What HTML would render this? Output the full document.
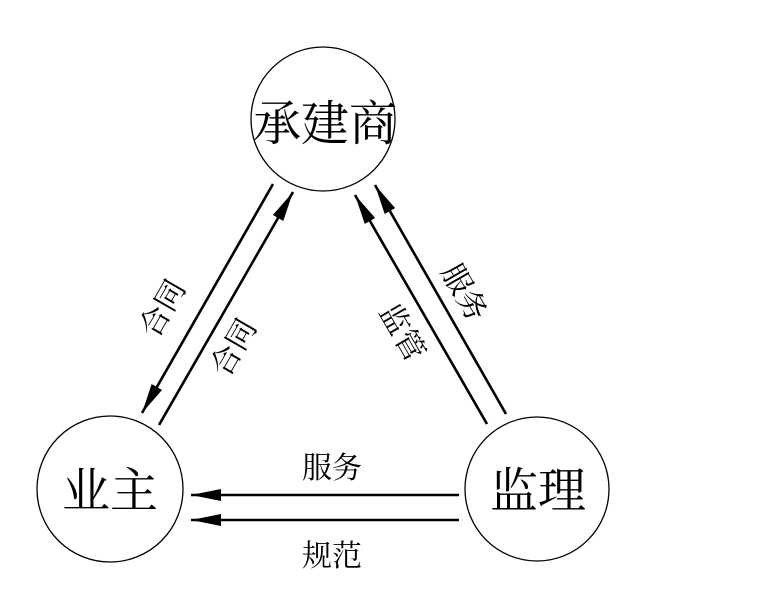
<!DOCTYPE html>
<html><head><meta charset="utf-8"><style>
html,body{margin:0;padding:0;background:#fff;width:780px;height:609px;overflow:hidden}
text{font-family:"Noto Serif CJK SC","WenQuanYi Zen Hei",serif;fill:#000}
</style></head><body>
<svg width="780" height="609" viewBox="0 0 780 609" xmlns="http://www.w3.org/2000/svg">
<defs>
<marker id="a" markerWidth="30" markerHeight="12" refX="30" refY="6" orient="auto" markerUnits="userSpaceOnUse">
<path d="M0,0 L30,6 L0,12 Z" fill="#000"/>
</marker>
</defs>
<g fill="none" stroke="#000" stroke-width="1.3">
<circle cx="323" cy="119" r="72"/>
<circle cx="110" cy="489" r="73"/>
<circle cx="537" cy="489" r="72"/>
</g>
<g stroke="#000" stroke-width="2.6" fill="none">
<line x1="273" y1="184" x2="142" y2="413" marker-end="url(#a)"/>
<line x1="159" y1="425" x2="293" y2="192" marker-end="url(#a)"/>
<line x1="487" y1="424" x2="355" y2="195" marker-end="url(#a)"/>
<line x1="506" y1="414" x2="375" y2="185" marker-end="url(#a)"/>
<line x1="459" y1="495" x2="191" y2="495" marker-end="url(#a)"/>
<line x1="459" y1="520" x2="191" y2="520" marker-end="url(#a)"/>
</g>
<text x="325" y="140" font-size="48" text-anchor="middle">承建商</text>
<text x="110" y="507" font-size="48" text-anchor="middle">业主</text>
<text x="538" y="507" font-size="48" text-anchor="middle">监理</text>
<text x="332" y="478" font-size="30" text-anchor="middle">服务</text>
<text x="332" y="566" font-size="30" text-anchor="middle">规范</text>
<text transform="translate(162,308) rotate(-60)" y="11" font-size="30" text-anchor="middle">合同</text>
<text transform="translate(233,347) rotate(-60)" y="11" font-size="30" text-anchor="middle">合同</text>
<text transform="translate(403,332) rotate(60)" y="11" font-size="30" text-anchor="middle">监管</text>
<text transform="translate(465,292) rotate(60)" y="11" font-size="30" text-anchor="middle">服务</text>
</svg>
</body></html>
